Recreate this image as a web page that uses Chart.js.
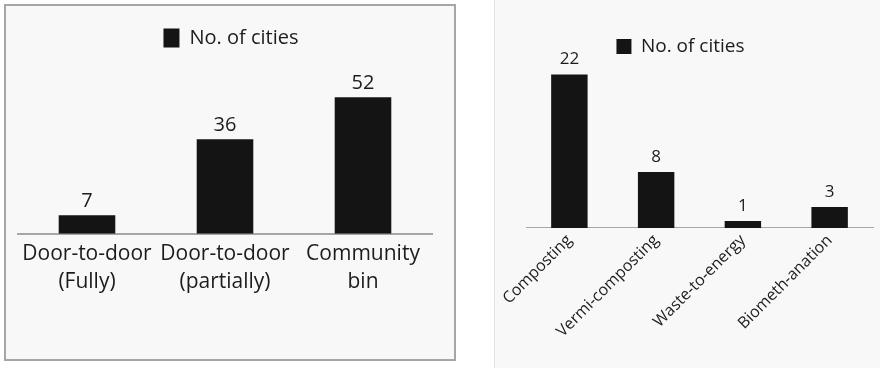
<!DOCTYPE html>
<html>
<head>
<meta charset="utf-8">
<script src="https://cdn.jsdelivr.net/npm/chart.js@4"></script>
<style>
  body { margin: 0; background: #fff; width: 880px; height: 368px; overflow: hidden; position: relative; }
  #left-box { position: absolute; left: 4px; top: 4px; width: 448px; height: 353px; border: 2px solid #a6a6a6; background: #f8f8f8; }
  #right-box { position: absolute; left: 494px; top: 0; width: 385px; height: 368px; border-left: 1px solid #e2e2e2; background: #f8f8f8; }
  canvas { display: block; }
</style>
</head>
<body>
<div id="left-box"><canvas id="collection-chart" width="448" height="353"></canvas></div>
<div id="right-box"><canvas id="treatment-chart" width="385" height="368"></canvas></div>
<script>
const seriesLabel = 'No. of cities';

// waste collection
const collectionMethods = [['Door-to-door', '(Fully)'], ['Door-to-door', '(partially)'], ['Community', 'bin']];
const collectionCities = [7, 36, 52];

// waste treatment
const treatmentMethods = ['Composting', 'Vermi-composting', 'Waste-to-energy', 'Biometh-anation'];
const treatmentCities = [22, 8, 1, 3];

const barColor = '#141414';
const textColor = '#1c1c1c';
const fontFamily = '"Open Sans", "Noto Sans", sans-serif';

// writes each bar's value just above it
const valueLabels = {
  id: 'valueLabels',
  afterDatasetsDraw(chart, args, opts) {
    const ctx = chart.ctx;
    const values = chart.data.datasets[0].data;
    ctx.save();
    ctx.font = opts.size + 'px ' + fontFamily;
    ctx.fillStyle = textColor;
    ctx.textAlign = 'center';
    ctx.textBaseline = 'alphabetic';
    chart.getDatasetMeta(0).data.forEach((bar, i) => {
      ctx.fillText(String(values[i]), bar.x, bar.y - opts.gap);
    });
    ctx.restore();
  }
};

// nudges the legend sideways
const legendShift = {
  id: 'legendShift',
  afterLayout(chart, args, opts) {
    const lg = chart.legend;
    if (lg && opts.dx) {
      lg.left += opts.dx;
      lg.right += opts.dx;
    }
  }
};

function makeChart(id, labels, values, s) {
  return new Chart(document.getElementById(id), {
    type: 'bar',
    data: {
      labels: labels,
      datasets: [{
        label: seriesLabel,
        data: values,
        backgroundColor: barColor,
        borderWidth: 0,
        categoryPercentage: 1,
        barPercentage: s.barPct
      }]
    },
    options: {
      responsive: false,
      animation: false,
      layout: { padding: s.padding },
      scales: {
        x: {
          grid: { display: false, drawTicks: false },
          border: { display: true, color: '#a6a6a6', width: s.axisWidth },
          ticks: {
            color: textColor,
            autoSkip: false,
            padding: s.tickPad,
            minRotation: s.rotation,
            maxRotation: s.rotation,
            font: { family: fontFamily, size: s.tickSize, lineHeight: s.tickLine }
          }
        },
        y: { display: false, min: 0, max: s.yMax }
      },
      plugins: {
        tooltip: { enabled: false },
        legend: {
          position: 'top',
          labels: {
            color: textColor,
            boxWidth: s.boxW,
            boxHeight: s.boxH,
            font: { family: fontFamily, size: s.legendSize }
          }
        },
        legendShift: { dx: s.legendDx },
        valueLabels: { size: s.valueSize, gap: s.valueGap }
      }
    },
    plugins: [valueLabels, legendShift]
  });
}

makeChart('collection-chart', collectionMethods, collectionCities, {
  barPct: 0.41,
  padding: { left: 12, right: 22, top: 12, bottom: 57 },
  axisWidth: 2,
  tickPad: 6,
  rotation: 0,
  tickSize: 21,
  tickLine: 1.34,
  yMax: 67,
  boxW: 16,
  boxH: 19,
  legendSize: 20,
  legendDx: 6,
  valueSize: 20,
  valueGap: 8
});

makeChart('treatment-chart', treatmentMethods, treatmentCities, {
  barPct: 0.42,
  padding: { left: 31, right: 7, top: 27, bottom: 24 },
  axisWidth: 1,
  tickPad: 3,
  rotation: 45,
  tickSize: 16,
  tickLine: 1.2,
  yMax: 23.2,
  boxW: 15,
  boxH: 15,
  legendSize: 19,
  legendDx: -19,
  valueSize: 17,
  valueGap: 10
});
</script>
</body>
</html>
